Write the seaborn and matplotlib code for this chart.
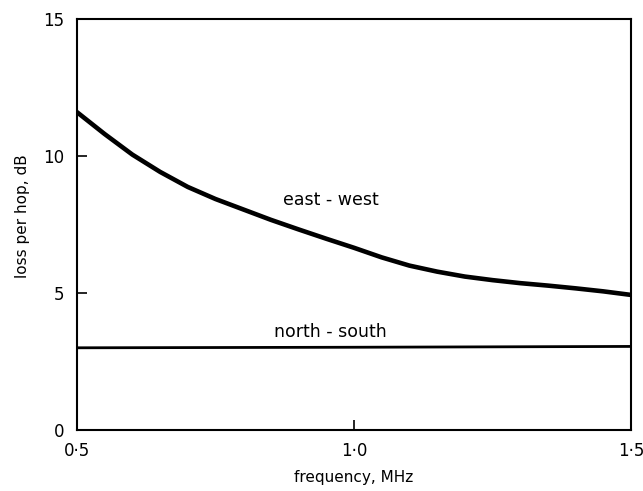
import pandas as pd
import matplotlib
matplotlib.use("Agg")
import matplotlib.pyplot as plt
import seaborn as sns

# Data
freq = [0.5, 0.55, 0.6, 0.65, 0.7, 0.75, 0.8, 0.85, 0.9, 0.95, 1.0,
        1.05, 1.1, 1.15, 1.2, 1.25, 1.3, 1.35, 1.4, 1.45, 1.5]
east_west = [11.6, 10.8, 10.05, 9.42, 8.87, 8.43, 8.05, 7.67, 7.32, 6.98, 6.65,
             6.3, 6.0, 5.78, 5.6, 5.47, 5.36, 5.27, 5.17, 5.06, 4.93]
ns_freq = [0.5, 1.0, 1.5]
north_south = [3.0, 3.02, 3.05]

x_ticks = [0.5, 1.0, 1.5]
x_ticklabels = ["0·5", "1·0", "1·5"]
y_ticks = [0, 5, 10, 15]
y_ticklabels = ["0", "5", "10", "15"]

sns.set_style("ticks")
plt.rcParams['font.family'] = ['DejaVu Sans']
plt.rcParams['text.color'] = 'black'
plt.rcParams['axes.labelcolor'] = 'black'

fig = plt.figure(figsize=(6.43, 4.91), dpi=100)
ax = fig.add_axes([77 / 643, 61 / 491, 554 / 643, 411 / 491])

ew = pd.DataFrame({"freq": freq, "loss": east_west})
ns = pd.DataFrame({"freq": ns_freq, "loss": north_south})

sns.lineplot(data=ew, x="freq", y="loss", color="black", linewidth=3.3, ax=ax)
sns.lineplot(data=ns, x="freq", y="loss", color="black", linewidth=2.0, ax=ax)

ax.text(0.959, 8.4, "east - west", ha="center", va="center", fontsize=12.5)
ax.text(0.957, 3.58, "north - south", ha="center", va="center", fontsize=12.5)

ax.set_xlim(0.5, 1.5)
ax.set_ylim(0, 15)
ax.set_xticks(x_ticks)
ax.set_xticklabels(x_ticklabels)
ax.set_yticks(y_ticks)
ax.set_yticklabels(y_ticklabels)
ax.tick_params(direction="in", length=7, width=1.2, labelsize=12, colors="black")
ax.tick_params(axis="x", pad=9)
ax.tick_params(axis="y", pad=9)

for side in ["left", "right", "top", "bottom"]:
    ax.spines[side].set_visible(True)
    ax.spines[side].set_linewidth(1.5)
    ax.spines[side].set_color("black")

ax.set_xlabel("frequency, MHz", fontsize=11, labelpad=7)
ax.set_ylabel("loss per hop, dB", fontsize=11)
ax.yaxis.set_label_coords(-0.085, 0.52)

fig.savefig("out.png", dpi=100)
